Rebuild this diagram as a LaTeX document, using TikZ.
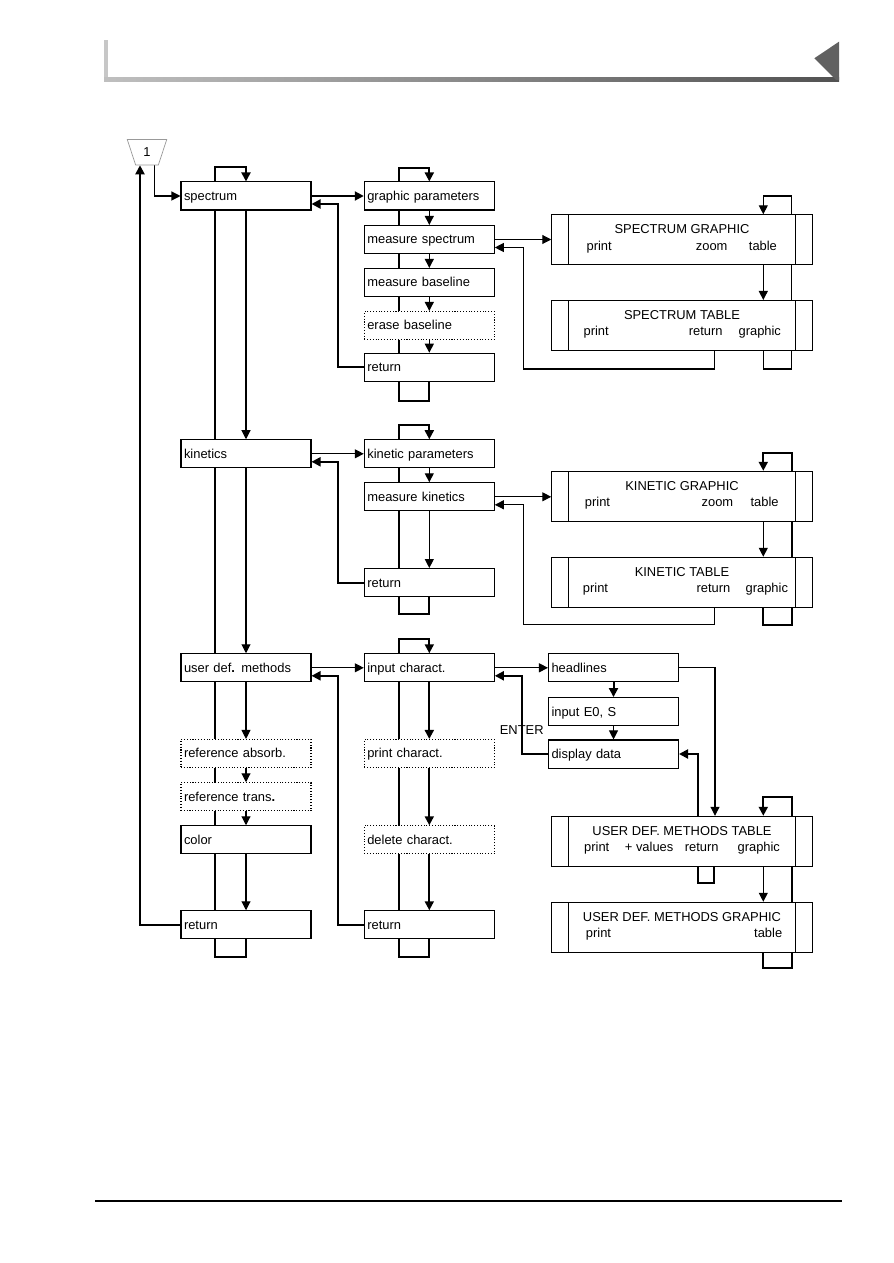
\documentclass[tikz,border=0pt]{standalone}
\usepackage{fontspec}
\setmainfont{Liberation Sans}
\usetikzlibrary{arrows.meta,calc,positioning,shapes.geometric,backgrounds}

\begin{document}
\begin{tikzpicture}[
    x=0.02cm, y=-0.02cm,
    font=\fontsize{7.35}{9}\selectfont,
    menu/.style={draw, fill=white, line width=0.6pt, minimum height=0.49cm, text width=2.48cm, inner xsep=0.06cm, align=left, text height=0.72em, text depth=0.21em},
    optmenu/.style={menu, densely dotted},
    screen/.style={draw, fill=white, line width=0.6pt, minimum width=5.21cm, minimum height=1.0cm,
        path picture={
            \draw[line width=0.6pt] ([xshift=0.332cm]path picture bounding box.north west) -- ([xshift=0.332cm]path picture bounding box.south west);
            \draw[line width=0.6pt] ([xshift=-0.332cm]path picture bounding box.north east) -- ([xshift=-0.332cm]path picture bounding box.south east);
        }},
    title/.style={anchor=base, inner sep=0pt},
    key/.style={anchor=base west, inner sep=0pt},
    arr/.style={-{Triangle[length=0.18cm, width=0.18cm]}, line width=0.6pt},
    fatarr/.style={arr, line width=1.15pt},
    fat/.style={line width=1.15pt}
]
\useasboundingbox (0,0) rectangle (893,1263);

% page header and footer
\fill[black!22] (104,40) rectangle (108,81.7);
\shade[left color=black!25, right color=black!68] (104,77.7) rectangle (839,81.7);
\fill[black!62] (839,41.7) -- (814.3,58.3) -- (836,80) -- (839,80) -- cycle;
\draw[line width=0.6pt] (95,1201) -- (842,1201);

% entry point
\node[trapezium, trapezium left angle=106.5, trapezium right angle=106.5, trapezium stretches=true,
      minimum width=0.79cm, minimum height=0.51cm, draw=black!40, inner sep=0pt] (start) at (147,152.2) {1};

% main menu
\node[menu] (spec) at (246,196) {spectrum};
\node[menu] (kin) at (246,453.8) {kinetics};
\node[menu] (udm) at (246,667.8) {user def\textbf{.} methods};
\node[optmenu] (rabs) at (246,753.5) {reference absorb.};
\node[optmenu] (rtrans) at (246,796.8) {reference trans\textbf{.}};
\node[menu] (colr) at (246,839.8) {color};
\node[menu] (ret) at (246,924.8) {return};

% spectrum menu
\node[menu] (gp) at (429.3,196) {graphic parameters};
\node[menu] (ms) at (429.3,239.5) {measure spectrum};
\node[menu] (mb) at (429.3,282.5) {measure baseline};
\node[optmenu] (eb) at (429.3,325.5) {erase baseline};
\node[menu] (rs) at (429.3,367.3) {return};

% kinetics menu
\node[menu] (kp) at (429.3,453.8) {kinetic parameters};
\node[menu] (mk) at (429.3,496.8) {measure kinetics};
\node[menu] (rk) at (429.3,582.6) {return};

% user def. methods menu
\node[menu] (ic) at (429.3,667.8) {input charact.};
\node[optmenu] (pc) at (429.3,753.5) {print charact.};
\node[optmenu] (dc) at (429.3,839.8) {delete charact.};
\node[menu] (rc) at (429.3,924.8) {return};

\node[menu] (hl) at (613.5,667.8) {headlines};
\node[menu] (ie) at (613.5,711.6) {input E0, S};
\node[menu] (dd) at (613.5,754) {display data};
\node (enter) at (521.7,730) {ENTER};

% screens
\node[screen] (sg) at (682,239.8) {};
\node[title] (sgt) at ($(sg.north)+(0,19.5)$) {SPECTRUM GRAPHIC};
\node[key] (sgp) at ($(sg.north west)+(35,36)$) {print};
\node[key] (sgz) at ($(sg.north west)+(144.3,36)$) {zoom};
\node[key] (sgb) at ($(sg.north west)+(197.3,36)$) {table};

\node[screen] (st) at (682,325.5) {};
\node[title] (stt) at ($(st.north)+(0,19.5)$) {SPECTRUM TABLE};
\node[key] (stp) at ($(st.north west)+(32,36)$) {print};
\node[key] (str) at ($(st.north west)+(137.3,36)$) {return};
\node[key] (stg) at ($(st.north west)+(187,36)$) {graphic};

\node[screen] (kg) at (682,496.3) {};
\node[title] (kgt) at ($(kg.north)+(0,19.5)$) {KINETIC GRAPHIC};
\node[key] (kgp) at ($(kg.north west)+(33.3,36)$) {print};
\node[key] (kgz) at ($(kg.north west)+(150,36)$) {zoom};
\node[key] (kgb) at ($(kg.north west)+(199,36)$) {table};

\node[screen] (kt) at (682,582.3) {};
\node[title] (ktt) at ($(kt.north)+(0,19.5)$) {KINETIC TABLE};
\node[key] (ktp) at ($(kt.north west)+(31.3,36)$) {print};
\node[key] (ktr) at ($(kt.north west)+(145,36)$) {return};
\node[key] (ktg) at ($(kt.north west)+(194,36)$) {graphic};

\node[screen] (ut) at (682,841.3) {};
\node[title] (utt) at ($(ut.north)+(0,19.5)$) {USER DEF. METHODS TABLE};
\node[key] (utp) at ($(ut.north west)+(32.6,36)$) {print};
\node[key] (utv) at ($(ut.north west)+(73.3,36)$) {+ values};
\node[key] (utr) at ($(ut.north west)+(133.3,36)$) {return};
\node[key] (utg) at ($(ut.north west)+(186,36)$) {graphic};

\node[screen] (ug) at (682,927.3) {};
\node[title] (ugt) at ($(ug.north)+(0,19.5)$) {USER DEF. METHODS GRAPHIC};
\node[key] (ugp) at ($(ug.north west)+(34.3,36)$) {print};
\node[key] (ugb) at ($(ug.north west)+(202.6,36)$) {table};

\begin{scope}[on background layer]
% main menu
\draw[arr] ([xshift=0.146cm]start.south) |- (spec.west);
\draw[fatarr] (ret.west) -| ([xshift=-0.14cm]start.south);
\draw[fatarr] (ret.south) -- ++(0,18) -| ++(-31,-790) -| (spec.north);
\draw[arr] (spec) -- (kin);
\draw[arr] (kin) -- (udm);
\draw[arr] (udm) -- (rabs);
\draw[arr] (rabs) -- (rtrans);
\draw[arr] (rtrans) -- (colr);
\draw[arr] (colr) -- (ret);

% spectrum
\draw[fatarr] (spec.east) -- (gp.west);
\draw[fatarr] (rs.west) -- ++(-26,0) |- ([yshift=-0.16cm]spec.east);
\draw[fatarr] (rs.south) -- ++(0,19) -| ++(-30.3,-233) -| (gp.north);
\draw[arr] (gp) -- (ms);
\draw[arr] (ms) -- (mb);
\draw[arr] (mb) -- (eb);
\draw[arr] (eb) -- (rs);
\draw[arr] (ms.east) -- (ms.east -| sg.west);
\draw[arr] ([xshift=0.646cm]st.south) -- ++(0,18) -| ([xshift=0.58cm,yshift=-0.16cm]ms.east) -- ([yshift=-0.16cm]ms.east);
\draw[arr] ([xshift=1.626cm]st.south) -- ++(0,18) -| ++(28.4,-173) -| ([xshift=1.626cm]sg.north);
\draw[arr] ([xshift=1.626cm]sg.south) -- ([xshift=1.626cm]st.north);

% kinetics
\draw[arr] (kin.east) -- (kp.west);
\draw[fatarr] (rk.west) -- ++(-26,0) |- ([yshift=-0.16cm]kin.east);
\draw[fatarr] (rk.south) -- ++(0,17) -| ++(-30.3,-189.5) -| (kp.north);
\draw[arr] (kp) -- (mk);
\draw[arr] (mk) -- (rk);
\draw[arr] (mk.east) -- (mk.east -| kg.west);
\draw[arr] ([xshift=0.646cm]kt.south) -- ++(0,17) -| ([xshift=0.58cm,yshift=-0.16cm]mk.east) -- ([yshift=-0.16cm]mk.east);
\draw[fatarr] ([xshift=1.626cm]kt.south) -- ++(0,17.5) -| ++(28.4,-172) -| ([xshift=1.626cm]kg.north);
\draw[arr] ([xshift=1.626cm]kg.south) -- ([xshift=1.626cm]kt.north);

% user def. methods
\draw[arr] (udm.east) -- (ic.west);
\draw[fatarr] (rc.west) -- ++(-26,0) |- ([yshift=-0.16cm]udm.east);
\draw[fatarr] (rc.south) -- ++(0,18) -| ++(-30.3,-318.5) -| (ic.north);
\draw[fatarr] (ic) -- (pc);
\draw[fatarr] (pc) -- (dc);
\draw[fatarr] (dc) -- (rc);
\draw[arr] (ic.east) -- (hl.west);
\draw[fatarr] (dd.west) -| ([xshift=0.55cm,yshift=-0.16cm]ic.east) -- ([yshift=-0.16cm]ic.east);
\draw[fatarr] (hl) -- (ie);
\draw[arr] (ie) -- (dd);
\draw[arr] (hl.east) -| ([xshift=0.66cm]ut.north);
\draw[fatarr] ([xshift=0.326cm]ut.north) |- (dd.east);
\draw[fat] ([xshift=0.646cm]ut.south) -- ++(0,15.7) -| ([xshift=0.326cm]ut.south);
\draw[fatarr] ([xshift=1.626cm]ug.south) -- ++(0,15) -| ++(28.4,-170.6) -| ([xshift=1.626cm]ut.north);
\draw[arr] ([xshift=1.626cm]ut.south) -- ([xshift=1.626cm]ug.north);
\end{scope}
\end{tikzpicture}
\end{document}
